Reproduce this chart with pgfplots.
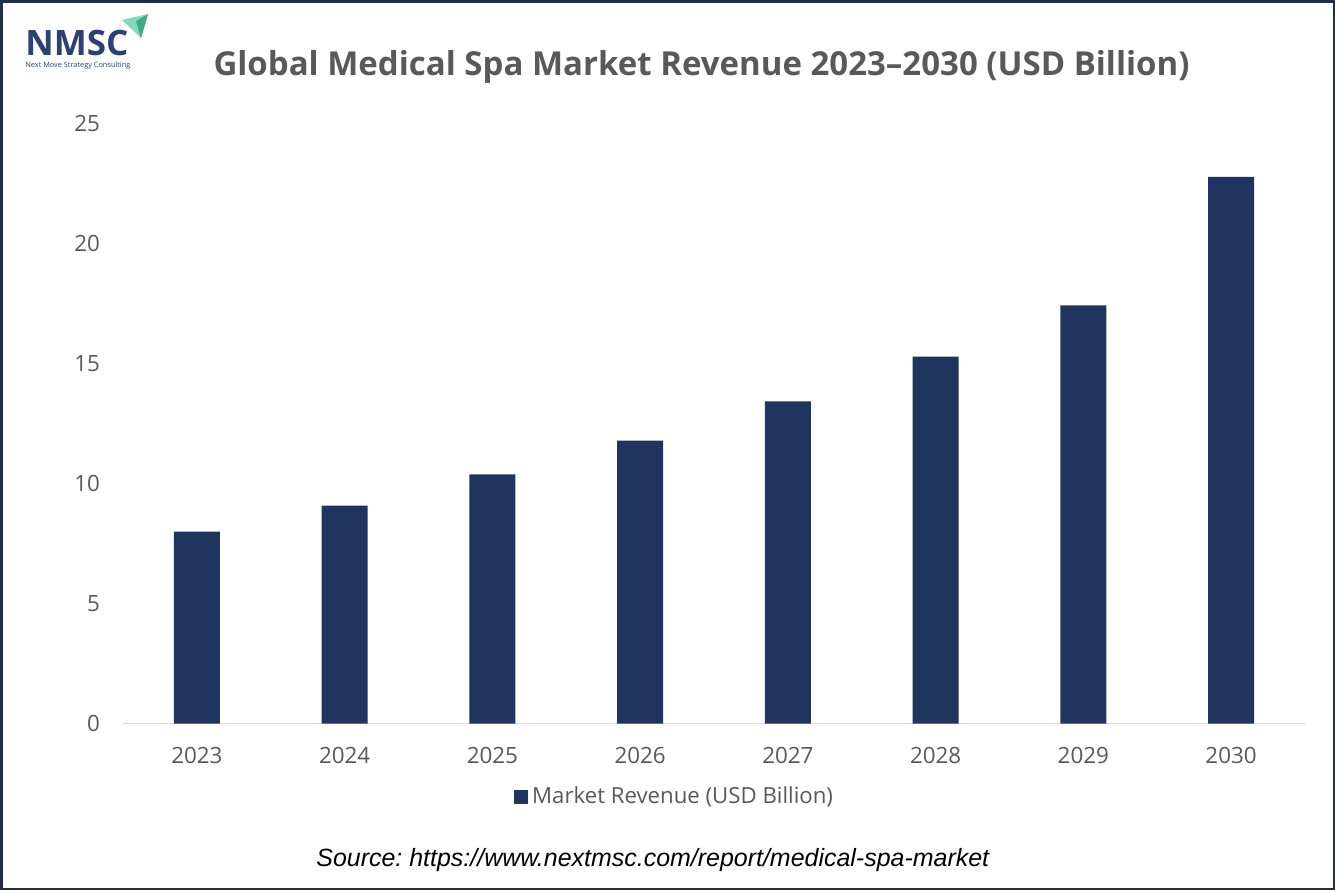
\documentclass[border=0pt]{standalone}
\usepackage{fontspec}
\setmainfont{Open Sans}
\newfontfamily\srcfont{Liberation Sans}
\usepackage{graphicx}
\usepackage{pgfplots}
\pgfplotsset{compat=1.18}
\frenchspacing
\definecolor{barblue}{HTML}{1F3560}
\definecolor{txtgray}{HTML}{595959}
\definecolor{axisgray}{HTML}{D9D9D9}
\definecolor{framecol}{HTML}{1F2E4C}
\definecolor{logoblue}{HTML}{2C4170}
\definecolor{logogreen}{HTML}{7FDDBB}
\definecolor{logoteal}{HTML}{3FA98A}
\newlength\px \setlength\px{0.5pt}
\pgfplotstableread{
x year value
0 2023 8.00
1 2024 9.08
2 2025 10.38
3 2026 11.79
4 2027 13.42
5 2028 15.29
6 2029 17.42
7 2030 22.78
}\datatable
\begin{document}
\begin{tikzpicture}[x=\px,y=\px]
\path[use as bounding box] (0,0) rectangle (1335,-890);
\fill[white] (0,0) rectangle (1335,-890);
\begin{axis}[
  at={(123\px,-723.5\px)}, anchor=south west,
  scale only axis, width=1182\px, height=600\px,
  xmin=-0.5, xmax=7.5, ymin=0, ymax=25,
  ybar, bar width=46\px,
  xtick={0,...,7}, xticklabels={2023,2024,2025,2026,2027,2028,2029,2030},
  ytick={0,5,...,25},
  axis lines*=left,
  y axis line style={draw=none},
  x axis line style={draw=axisgray, line width=1.5\px},
  major tick length=0pt,
  tick style={draw=none},
  /pgf/number format/assume math mode=true,
  tick label style={font=\fontsize{11.2}{13}\selectfont, text=txtgray},
  xticklabel style={yshift=-17\px},
  yticklabel style={xshift=-16\px},
  legend style={at={(0.4675,-0.122)}, anchor=center, draw=none, fill=none,
    font=\fontsize{11.1}{13}\selectfont, text=txtgray},
  legend image code/.code={\fill[barblue] (-3\px,-7\px) rectangle (11\px,7\px);},
  clip=false,
]
\addplot[fill=barblue, draw=none] table[x=x, y=value] {\datatable};
\addlegendentry{Market Revenue (USD Billion)}
\end{axis}
% title
\node[anchor=base, font=\bfseries\fontsize{16.5}{19}\selectfont, text=txtgray, inner sep=0] at (701.5,-75) {Global Medical Spa Market Revenue 2023–2030 (USD Billion)};
% source
\node[anchor=base west, font=\srcfont\itshape\fontsize{12.48}{15}\selectfont, text=black, inner sep=0] at (316,-866.7) {Source: https://www.nextmsc.com/report/medical-spa-market};
% logo
\node[anchor=base west, font=\bfseries\fontsize{17.5}{19}\selectfont, text=logoblue, inner sep=0] at (25,-55) {NMSC};
\node[anchor=base west, inner sep=0, text=logoblue] at (25,-67) {\resizebox{105\px}{!}{\fontsize{6}{7}\selectfont Next Move Strategy Consulting}};
\fill[logogreen] (122,-20) -- (148,-14) -- (141,-38) -- cycle;
\fill[logoteal] (136,-21) -- (148,-14) -- (141,-38) -- cycle;
% frame
\draw[framecol, line width=2.5\px] (1.25,-1.25) rectangle (1333.75,-888.75);
\end{tikzpicture}
\end{document}
